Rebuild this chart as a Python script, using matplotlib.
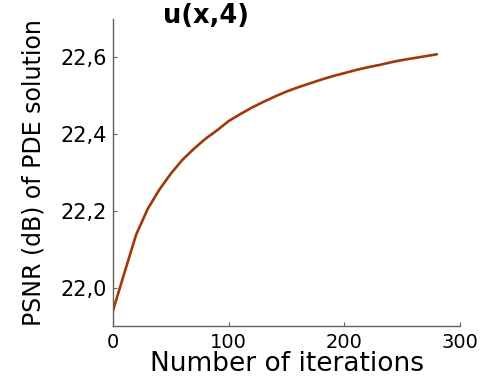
import matplotlib
matplotlib.use("Agg")
import matplotlib.pyplot as plt
from matplotlib.ticker import FuncFormatter

iterations = [0, 10, 20, 30, 40, 50, 60, 70, 80, 90, 100, 110, 120, 130, 140,
              150, 160, 170, 180, 190, 200, 210, 220, 230, 240, 250, 260, 270, 280]
psnr = [21.94, 22.04, 22.138, 22.205, 22.255, 22.297, 22.333, 22.362, 22.388,
        22.41, 22.434, 22.452, 22.469, 22.484, 22.498, 22.511, 22.522, 22.532,
        22.542, 22.551, 22.559, 22.567, 22.574, 22.58, 22.587, 22.593, 22.598,
        22.603, 22.608]
xticks = [0, 100, 200, 300]
yticks = [22.0, 22.2, 22.4, 22.6]

plt.rcParams['font.family'] = ['DejaVu Sans']

fig = plt.figure(figsize=(4.8, 3.77), dpi=100)
ax = fig.add_axes([113/480, 1-326/377, (460-113)/480, (326-19)/377])
ax.plot(iterations, psnr, color='#A0380A', lw=1.9, solid_capstyle='round')
ax.set_xlim(0, 300)
ax.set_ylim(21.90, 22.70)
ax.set_xticks(xticks)
ax.set_yticks(yticks)
ax.yaxis.set_major_formatter(FuncFormatter(lambda v, p: f"{v:.1f}".replace('.', ',')))
for s in ['top', 'right']:
    ax.spines[s].set_visible(False)
for s in ['left', 'bottom']:
    ax.spines[s].set_color('#606060')
    ax.spines[s].set_linewidth(1.0)
ax.tick_params(direction='in', length=3, width=0.8, color='#606060')
ax.tick_params(axis='y', labelsize=15, pad=4.3)
ax.tick_params(axis='x', labelsize=14, pad=5)
ax.set_xlabel('Number of iterations', fontsize=19, va='baseline')
ax.xaxis.set_label_coords(0.5, -45/307)
ax.set_ylabel('PSNR (dB) of PDE solution', fontsize=17, va='center')
ax.yaxis.set_label_coords(-80/347, 0.5)
fig.text(206/480, 1-23/377, 'u(x,4)', fontsize=18.5, fontweight='bold',
         ha='center', va='baseline')
fig.savefig('out.png', dpi=100)
